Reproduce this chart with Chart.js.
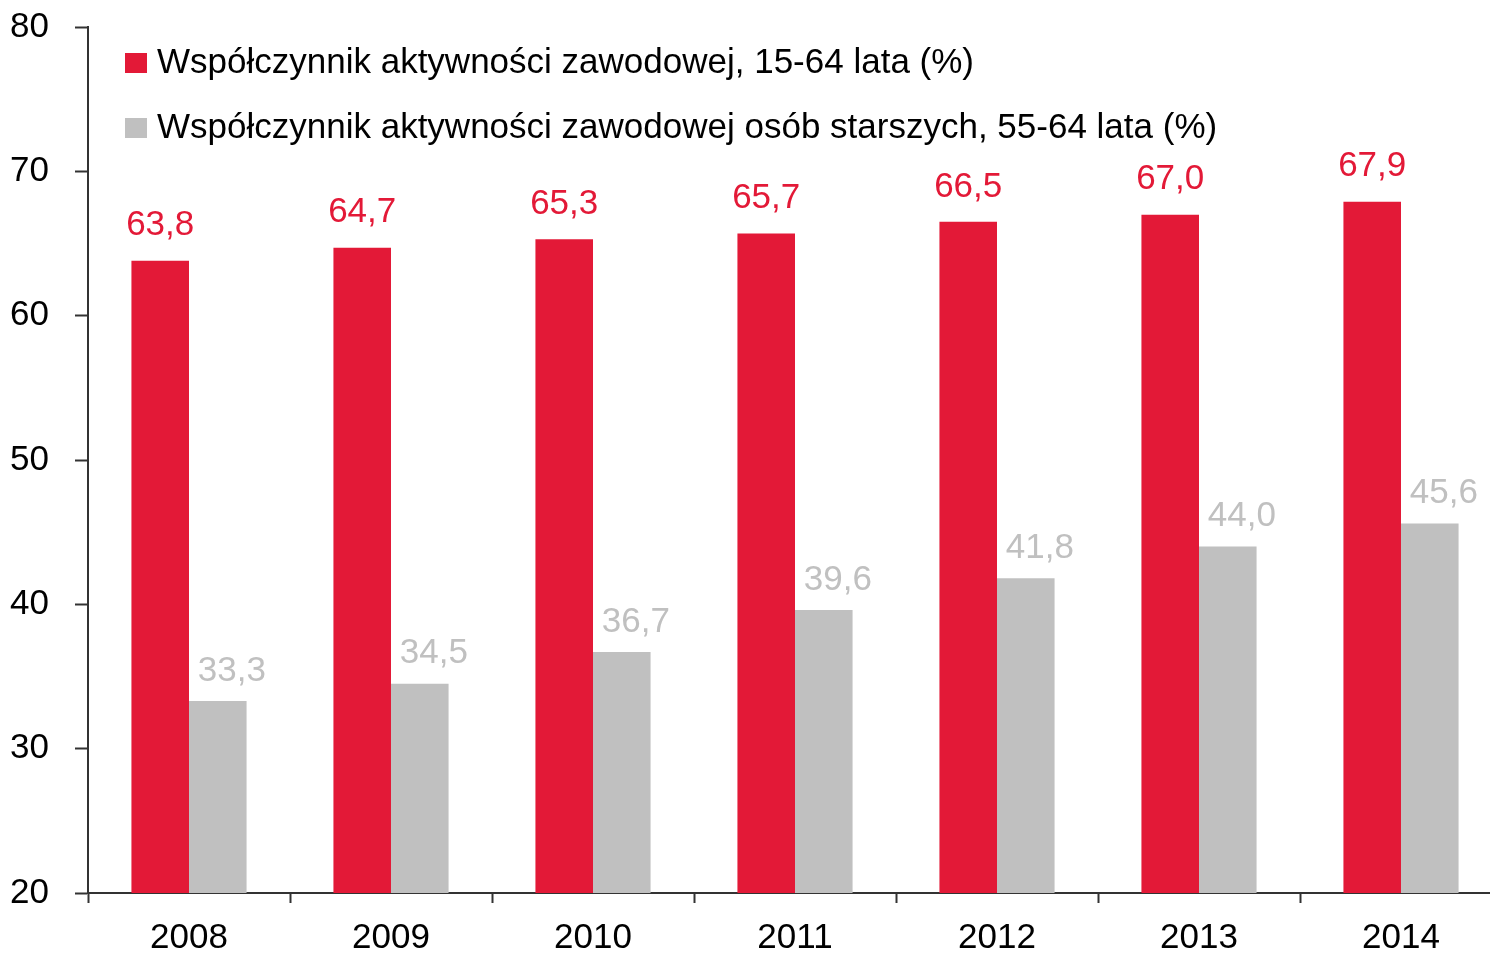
<!DOCTYPE html>
<html>
<head>
<meta charset="utf-8">
<script src="https://cdn.jsdelivr.net/npm/chart.js@4/dist/chart.umd.min.js"></script>
<style>
    html, body { margin: 0; padding: 0; background: #fff; overflow: hidden; }
    #wrap { width: 1490px; height: 957px; overflow: hidden; }
</style>
</head>
<body>
<div id="wrap"><canvas id="chart" width="1502" height="957"></canvas></div>
<script>
// Data
const years = ['2008', '2009', '2010', '2011', '2012', '2013', '2014'];
const activityRate = [63.8, 64.7, 65.3, 65.7, 66.5, 67.0, 67.9];
const olderActivityRate = [33.3, 34.5, 36.7, 39.6, 41.8, 44.0, 45.6];
const seriesNames = [
    'Współczynnik aktywności zawodowej, 15-64 lata (%)',
    'Współczynnik aktywności zawodowej osób starszych, 55-64 lata (%)'
];
const yTicks = [20, 30, 40, 50, 60, 70, 80];

const RED = '#E31937';
const GRAY = '#C0C0C0';
const FONT = '"Liberation Sans", Arial, sans-serif';

// Value labels above bars
const valueLabels = {
    id: 'valueLabels',
    afterDatasetsDraw(chart) {
        const ctx = chart.ctx;
        ctx.save();
        ctx.font = '35px ' + FONT;
        ctx.textAlign = 'center';
        ctx.textBaseline = 'middle';
        chart.data.datasets.forEach((ds, i) => {
            const meta = chart.getDatasetMeta(i);
            const offY = i === 0 ? 35 : 30;
            const offX = i === 0 ? 0 : 14;
            ctx.fillStyle = ds.labelColor;
            meta.data.forEach((bar, j) => {
                const txt = ds.data[j].toFixed(1).replace('.', ',');
                ctx.fillText(txt, bar.x + offX, bar.y - offY);
            });
        });
        ctx.restore();
    }
};

// Legend inside the plot area
const insideLegend = {
    id: 'insideLegend',
    afterDraw(chart) {
        const ctx = chart.ctx;
        const left = chart.chartArea.left;
        const top = chart.chartArea.top;
        ctx.save();
        ctx.font = '35px ' + FONT;
        ctx.textAlign = 'left';
        ctx.textBaseline = 'middle';
        chart.data.datasets.forEach((ds, i) => {
            const cy = top + 36 + i * 65;
            ctx.fillStyle = ds.backgroundColor;
            ctx.fillRect(left + 37, cy - 10, 22, 20);
            ctx.fillStyle = '#000';
            ctx.fillText(ds.label, left + 69, cy);
        });
        ctx.restore();
    }
};

const ctx = document.getElementById('chart').getContext('2d');
const chart = new Chart(ctx, {
    type: 'bar',
    data: {
        labels: years,
        datasets: [{
            label: seriesNames[0],
            data: activityRate,
            backgroundColor: RED,
            labelColor: RED,
            categoryPercentage: 0.57,
            barPercentage: 1.0
        }, {
            label: seriesNames[1],
            data: olderActivityRate,
            backgroundColor: GRAY,
            labelColor: GRAY,
            categoryPercentage: 0.57,
            barPercentage: 1.0
        }]
    },
    options: {
        responsive: false,
        animation: false,
        layout: {
            padding: { top: 27, left: 0, right: 0, bottom: 0 }
        },
        plugins: {
            legend: { display: false },
            tooltip: { enabled: false }
        },
        scales: {
            x: {
                grid: {
                    display: true,
                    drawOnChartArea: false,
                    drawTicks: true,
                    tickLength: 10,
                    tickWidth: 2,
                    color: '#333',
                    offset: true
                },
                border: { display: true, color: '#333', width: 2 },
                ticks: {
                    color: '#000',
                    font: { family: FONT, size: 35 },
                    padding: 14,
                    maxRotation: 0
                },
                afterFit(scale) {
                    scale.height = 64;
                }
            },
            y: {
                min: 20,
                max: 80,
                afterBuildTicks(scale) {
                    scale.ticks = yTicks.map(v => ({ value: v }));
                },
                grid: {
                    display: true,
                    drawOnChartArea: false,
                    drawTicks: true,
                    tickLength: 13,
                    tickWidth: 2,
                    color: '#333'
                },
                border: { display: true, color: '#333', width: 2 },
                ticks: {
                    color: '#000',
                    font: { family: FONT, size: 35 },
                    padding: 26
                },
                afterFit(scale) {
                    scale.width = 88;
                    scale.paddingTop = 0;
                    scale.paddingBottom = 0;
                }
            }
        }
    },
    plugins: [valueLabels, insideLegend]
});
</script>
</body>
</html>
